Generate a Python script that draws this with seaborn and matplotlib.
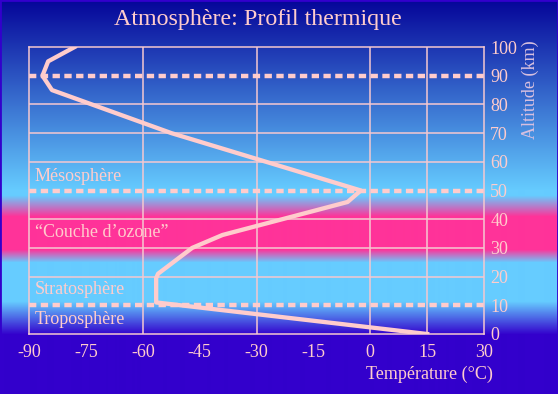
import numpy as np
import matplotlib
matplotlib.use('Agg')
import matplotlib.pyplot as plt
import matplotlib.colors as mcolors
from matplotlib.patches import Rectangle
import seaborn as sns

# temperature profile (deg C vs km)
temperature = [-78, -85, -86.5, -84, -52.5, -2.5, -6, -39, -47, -56, -56.5, -56.5, 15]
altitude = [100, 95, 90, 85, 70, 50, 46, 34.5, 30, 21, 19.5, 11, 0]

boundaries = [10, 50, 90]
layer_names = ['Troposphère', 'Stratosphère', '\u201cCouche d\u2019ozone\u201d', 'Mésosphère']
layer_alt = [5.2, 15.4, 35.4, 54.9]

x_ticks = list(range(-90, 31, 15))
y_ticks = list(range(0, 101, 10))
grid_x = [-60, -30, 0, 15]
grid_y = [20, 30, 40, 60, 70, 80]

pink = '#ffcccc'
plt.rcParams['font.family'] = ['Liberation Serif', 'DejaVu Serif']
plt.rcParams['axes.unicode_minus'] = False

W, H = 558, 394
fig = plt.figure(figsize=(W / 100, H / 100), dpi=100)
fig.patch.set_facecolor('#3300cc')

# background gradient (pixel rows from the top)
stops = [(0, '#050599'), (190, '#66ccff'), (195, '#66ccff'), (216, '#ff3399'),
         (249, '#ff3399'), (262, '#66ccff'), (301, '#66ccff'), (334, '#3300cc'), (394, '#3300cc')]
rows = np.arange(H)
pos = [s[0] for s in stops]
cols = np.array([mcolors.to_rgb(s[1]) for s in stops])
img = np.stack([np.interp(rows, pos, cols[:, i]) for i in range(3)], axis=-1)[:, None, :]
bg = fig.add_axes([0, 0, 1, 1], zorder=0)
bg.imshow(img, aspect='auto', extent=[0, 1, 0, 1], interpolation='bilinear')
bg.axis('off')
fig.patches.append(Rectangle((0, 0), 1, 1, transform=fig.transFigure, fill=False,
                             edgecolor='#3300cc', linewidth=2, zorder=10))

left, right, top, bottom = 29.2, 484, 47, 334
ax = fig.add_axes([left / W, 1 - bottom / H, (right - left) / W, (bottom - top) / H], zorder=1)
ax.patch.set_alpha(0)

ax.vlines(grid_x, 0, 100, color='#f5c8d0', lw=1.1, zorder=1)
ax.hlines(grid_y, -90, 30, color='#f5c8d0', lw=1.1, zorder=1)
for b in boundaries:
    ax.axhline(b, color=pink, lw=3.2, ls=(0, (1.65, 1.0)), dash_capstyle='butt', zorder=2)

sns.lineplot(x=temperature, y=altitude, orient='y', estimator=None, color=pink,
             lw=3.1, ax=ax, zorder=3)

for name, a in zip(layer_names, layer_alt):
    ax.text(-88.6, a, name, ha='left', va='center', fontsize=13, color=pink)

ax.set_xlim(-90, 30)
ax.set_ylim(0, 100)
ax.set_xticks(x_ticks)
ax.set_yticks(y_ticks)
ax.yaxis.tick_right()
ax.tick_params(axis='both', length=0, colors=pink, labelsize=13)
ax.tick_params(axis='x', pad=7)
ax.tick_params(axis='y', pad=4.5)
for s in ax.spines.values():
    s.set_color('#f5c8d0')
    s.set_linewidth(1.1)

ax.set_xlabel('Température (°C)', fontsize=13, color=pink, ha='center', va='center')
ax.xaxis.set_label_coords((429 - left) / (right - left), (bottom - 374) / (bottom - top))
ax.yaxis.set_label_position('right')
ax.set_ylabel('Altitude (km)', fontsize=13, color='#d8c0e0', rotation=90,
              ha='center', va='center', rotation_mode='default')
ax.yaxis.set_label_coords((530 - left) / (right - left), (bottom - 90) / (bottom - top))

fig.text(258 / W, 1 - 20 / H, 'Atmosphère: Profil thermique', ha='center', va='center',
         fontsize=17.3, color=pink)

fig.savefig('out.png', dpi=100, facecolor=fig.get_facecolor())
